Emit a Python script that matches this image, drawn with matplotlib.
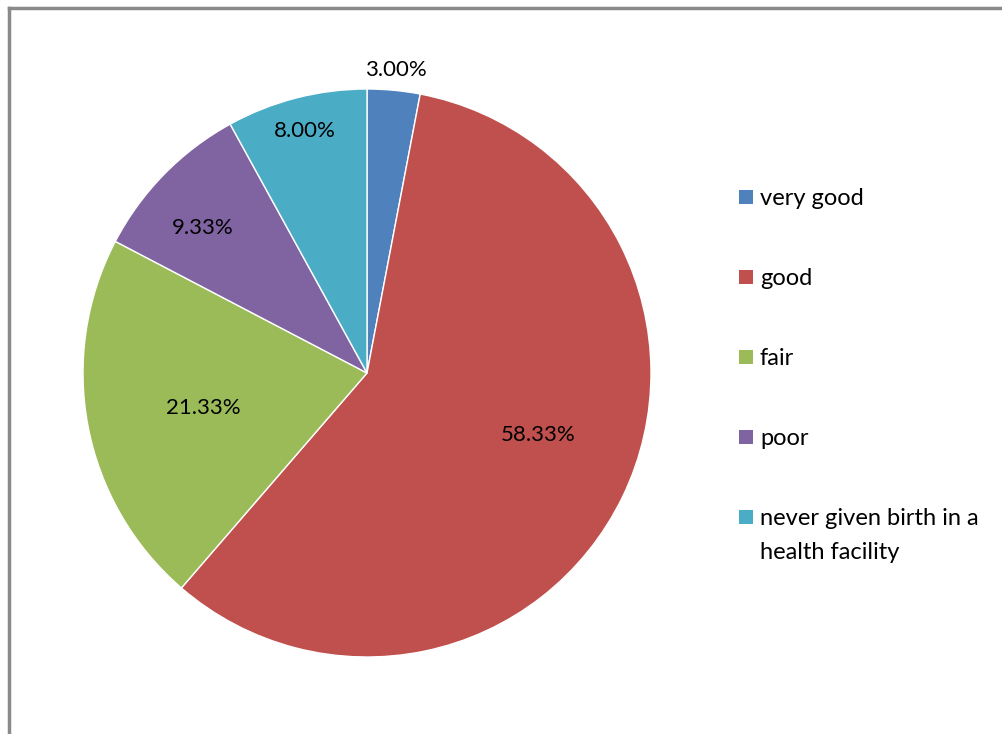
import numpy as np
import matplotlib.pyplot as plt
from matplotlib.patches import Rectangle
from matplotlib.lines import Line2D

plt.rcParams['font.family'] = ['Lato', 'DejaVu Sans']

labels = ['very good', 'good', 'fair', 'poor', 'never given birth in a\nhealth facility']
values = [3.00, 58.33, 21.33, 9.33, 8.00]
colors = ['#4F81BD', '#C0504D', '#9BBB59', '#8064A2', '#4BACC6']
# where each percentage label sits: distance from centre (radius = 1), angle shift from slice middle
label_r = [1.07, 0.64, 0.59, 0.77, 0.88]
label_shift = [0, 5.8, 1.2, 3.0, 0]

W, H = 1003, 734
fig = plt.figure(figsize=(W / 100, H / 100), dpi=100)

# grey frame lines (top and left)
fig.add_artist(Line2D([9.5 / W, 1.0], [1 - 8 / H, 1 - 8 / H], transform=fig.transFigure, color='#8a8a8a', lw=2.5))
fig.add_artist(Line2D([9.5 / W, 9.5 / W], [0.0, 1 - 8 / H], transform=fig.transFigure, color='#8a8a8a', lw=2.5))

ax = fig.add_axes([83 / W, 77 / H, 568 / W, 568 / H])
wedges, _ = ax.pie(values, colors=colors, startangle=90, counterclock=False,
                   radius=1, wedgeprops=dict(edgecolor='white', linewidth=1))
ax.set_xlim(-1, 1)
ax.set_ylim(-1, 1)
ax.set_aspect('equal')
ax.axis('off')

for w, v, r, s in zip(wedges, values, label_r, label_shift):
    mid = np.deg2rad((w.theta1 + w.theta2) / 2 + s)
    ax.text(r * np.cos(mid), r * np.sin(mid), f'{v:.2f}%', ha='center', va='center',
            fontsize=16, color='black', clip_on=False)

# legend, drawn by hand so the two-line entry keeps its marker on the first line
for i, (lab, c) in enumerate(zip(labels, colors)):
    yc = 197 + 80 * i
    fig.add_artist(Rectangle((739 / W, 1 - (yc + 7) / H), 14 / W, 14 / H,
                             transform=fig.transFigure, facecolor=c, edgecolor='none'))
    fig.text(760 / W, 1 - (yc - 9) / H, lab, ha='left', va='top', fontsize=17,
             linespacing=1.74, color='black')

fig.savefig('out.png', dpi=100)
